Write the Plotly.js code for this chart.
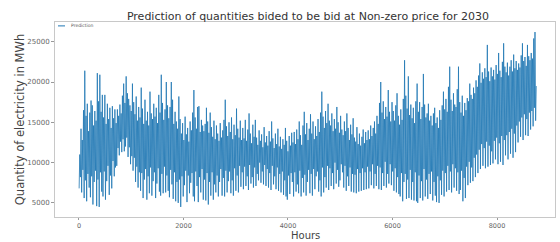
<!DOCTYPE html>
<html>
<head>
<meta charset="utf-8">
<script src="https://cdn.plot.ly/plotly-3.0.1.min.js"></script>
<style>html,body{margin:0;padding:0;background:#fff;}#chart{width:560px;height:242px;}</style>
</head>
<body>
<div id="chart"></div>
<script>
// Daily low (night) and daily high (day) of the predicted quantity, MWh
const dayLow = [
6800,8200,6300,9100,5600,7800,5200,8600,6900,5700,
8300,4800,7600,9000,4600,7900,4500,8800,6400,5800,
8900,5400,7700,9600,6000,8400,6800,10200,8300,9400,
9600,11800,10900,12600,11300,12900,11400,12000,13100,10700,
11900,9800,10800,9000,10600,7600,9500,6900,8800,6500,
8700,5600,7900,9200,5400,8300,6200,9400,5900,7700,
8800,5600,7400,9300,6400,5900,8600,6200,9500,6300,
8400,6500,5700,9100,7300,5500,8800,5200,7600,5000,
7900,4500,8300,5800,7200,9000,5100,8400,6200,7500,
8700,5800,5200,8900,7100,5100,8200,6300,9200,5400,
7900,5300,8700,4800,7600,5900,8800,5400,7300,6300,
8400,5800,7600,9200,5900,8100,5800,9000,6300,7700,
8900,6200,7800,5900,9300,6500,8400,6300,9600,7000,
8800,6700,9500,7100,8300,6600,9700,7400,8200,6900,
9400,7100,8600,7800,10000,7500,8900,7300,9700,7100,
9200,6900,8700,6600,9600,7300,8300,6700,9400,6500,
8600,6300,8900,6000,7800,5800,5400,8400,6100,8700,
7600,5800,8800,6400,7300,6200,9000,5800,8100,6300,
8500,5900,7600,9100,6200,8600,5900,9200,6700,8300,
8900,6400,7800,5800,9400,6300,8200,6900,9600,6600,
9300,7100,8700,6700,10000,7400,9100,7000,7800,9800,
8800,6900,9600,6500,8300,7100,9400,6400,8600,6300,
8500,6200,9200,6400,8700,6500,9300,6600,8800,6700,
9500,6800,8900,7200,9800,6800,8600,7100,9600,6700,
9400,6600,8700,7100,10100,6900,8600,7400,9800,7200,
8900,6500,9300,6300,8200,6100,5800,8700,5200,7600,
8600,5500,7900,5600,9100,5400,7600,5300,8800,5200,
5000,8400,5600,7700,5300,9200,5800,7900,5500,8600,
6100,8900,5300,7600,5900,5100,8300,5000,7800,6000,
9000,5800,8700,6400,9600,6600,8900,6300,9800,6900,
9300,6500,8800,6100,6600,9000,5200,8100,5600,9500,
7200,10100,7500,9400,7700,10600,8200,11000,8700,11600,
9200,12300,9600,11800,9300,12600,9500,12100,9700,11400,
9900,12700,10400,13100,9800,12400,10100,13300,9700,12800,
10900,13400,10400,13800,11100,14200,10600,13600,11300,14600,
12500,15100,13200,15600,12800,16000,13400,15400,13300,16200,
14100,16400,14500,16800,15200
];
const dayHigh = [
11000,14200,12800,16500,21400,15800,17300,13900,16200,17700,
17100,14600,16400,15200,21100,17600,20900,16300,18400,15600,
18400,14800,17300,15400,16800,14300,17000,15500,16600,14900,
16600,15800,17200,16100,18300,19800,17400,20700,18600,17900,
17100,16400,19800,17500,16000,18200,15200,16900,15600,19300,
16700,14800,17800,15200,16300,14600,18800,16100,15400,17300,
15700,16800,14900,18400,16200,20900,17400,15300,16600,20000,
17100,15500,16900,20000,17800,14800,16300,15100,14200,18200,
15400,13600,14900,12800,15700,13500,14300,12600,15100,14000,
16200,19000,15600,14200,16900,17000,13800,15300,14600,13900,
14800,16800,15100,13700,16200,14400,13200,15200,12900,14600,
13600,12700,14900,13100,14000,15300,17800,14500,13300,15000,
13800,15600,12900,14700,13400,16700,14200,13100,15200,12800,
14300,13000,15300,12700,14100,16100,13600,12400,14700,13200,
15300,13100,12200,14000,12700,13500,11900,14400,12500,13300,
12100,13900,12600,15100,13000,11800,13600,12300,14200,12000,
13200,11700,12900,12200,14300,12700,11400,13300,12100,13700,
12500,13800,12300,14100,12900,15100,13400,12200,14600,16300,
13500,14900,12800,14200,16000,13600,15100,12900,14500,13300,
15400,13800,16200,18800,15700,14300,16400,14900,17300,15200,
14600,16100,13900,15400,14200,16900,15000,13700,15800,14100,
13400,15100,13900,16100,14300,12800,14700,13500,15500,13100,
12600,14400,12300,13600,12100,13200,14100,12400,13800,12800,
14000,12900,14600,13300,14300,15100,13600,15800,14800,17400,
20000,16200,17600,15400,16900,15700,19000,16300,15100,17500,
16400,15200,17100,18600,15800,14700,16600,15300,17900,22700,
18300,16700,20700,15900,17200,15500,16800,14900,17600,19800,
16300,17500,15400,16900,21000,17200,15600,16100,17300,15200,
15800,14600,16100,16800,14900,15600,14300,16500,15300,17100,
18800,16600,17900,16300,19400,21900,17800,16400,18600,17200,
16900,19100,21900,17500,16200,18300,15800,17400,16500,18000,
17600,19800,18400,17900,19300,18600,20200,19400,20800,22300,
19900,21200,20400,21700,20600,24600,21300,20100,21800,20700,
21500,20300,22100,21000,23600,21400,20600,22500,24800,21900,
21200,22400,20800,21900,22700,21300,23400,21700,22600,21500,
22300,21800,23300,24800,22600,23100,22000,24600,23200,22700,
23600,22900,25400,26200,19500
];
const xTicks = [0, 2000, 4000, 6000, 8000];
const yTicks = [5000, 10000, 15000, 20000, 25000];
const seriesName = "Prediction";
const titleText = "Prediction of quantities bided to be bid at Non-zero price for 2030";
const xTitle = "Hours";
const yTitle = "Quantity of electricity in MWh";

// Hour of the day at which the low and the high occur
const LOW_HOUR = 3, HIGH_HOUR = 15;
const hours = [], quantity = [];
for (let d = 0; d < dayLow.length; d++) {
  hours.push(d * 24 + LOW_HOUR); quantity.push(dayLow[d]);
  hours.push(d * 24 + HIGH_HOUR); quantity.push(dayHigh[d]);
}

const font = "DejaVu Sans, Liberation Sans, sans-serif";
const blue = "#1f77b4";
const H = 242, T = 22, B = 25;
const trace = {
  x: hours, y: quantity, type: "scatter", mode: "lines", name: seriesName,
  line: {color: blue, width: 0.8}, showlegend: false
};
const layout = {
  width: 560, height: H,
  margin: {l: 55, r: 5, t: T, b: B},
  paper_bgcolor: "#fff", plot_bgcolor: "#fff",
  showlegend: false,
  title: {text: titleText, font: {family: font, size: 11, color: "#333"},
    x: 0.55, xanchor: "center", y: 1 - 16 / H, yanchor: "middle"},
  xaxis: {
    range: [-459, 9110], tickvals: xTicks, tickformat: "d",
    showgrid: false, zeroline: false, showline: true, mirror: true, linecolor: "#c8c8c8", linewidth: 1,
    ticks: "outside", ticklen: 2, tickcolor: "#999", tickfont: {family: font, size: 6.5, color: "#666"}
  },
  yaxis: {
    range: [3250, 27444], tickvals: yTicks, tickformat: "d",
    showgrid: false, zeroline: false, showline: true, mirror: true, linecolor: "#c8c8c8", linewidth: 1,
    ticks: "outside", ticklen: 3, tickcolor: "#999", tickfont: {family: font, size: 7, color: "#666"},
    title: {text: yTitle, font: {family: font, size: 11.5, color: "#444"}, standoff: 0}
  },
  // small legend box in the upper-left corner, as in the reference
  shapes: [{type: "line", xref: "paper", yref: "paper", x0: 0.006, x1: 0.02, y0: 0.98, y1: 0.98,
    line: {color: blue, width: 1}}],
  annotations: [
    {xref: "paper", yref: "paper", x: 0.027, y: 0.98, xanchor: "left", yanchor: "middle",
      text: seriesName, showarrow: false, font: {family: font, size: 4.5, color: "#555"}},
    // x-axis title placed just under the tick labels, bottom at the page edge
    {xref: "paper", yref: "paper", x: 0.5, y: -B / (H - T - B), xanchor: "center", yanchor: "bottom",
      text: xTitle, showarrow: false, borderpad: 0, font: {family: font, size: 10, color: "#444"}}
  ]
};
Plotly.newPlot("chart", [trace], layout, {staticPlot: true, displayModeBar: false});
</script>
</body>
</html>
